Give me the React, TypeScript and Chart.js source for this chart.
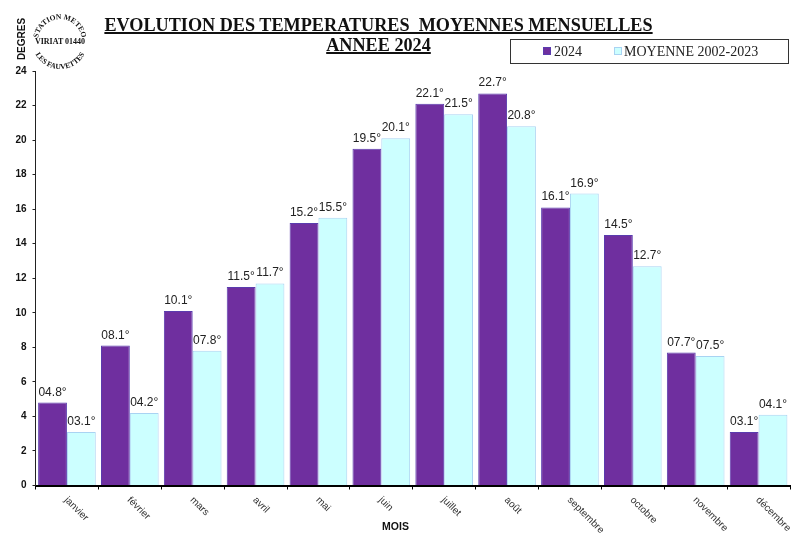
import React from "react";
import Chart from "chart.js/auto";

const months = ["janvier", "février", "mars", "avril", "mai", "juin", "juillet", "août", "septembre", "octobre", "novembre", "décembre"];
const values2024 = [4.8, 8.1, 10.1, 11.5, 15.2, 19.5, 22.1, 22.7, 16.1, 14.5, 7.7, 3.1];
const valuesMoyenne = [3.1, 4.2, 7.8, 11.7, 15.5, 20.1, 21.5, 20.8, 16.9, 12.7, 7.5, 4.1];
const seriesNames = ["2024", "MOYENNE 2002-2023"];
const seriesColors = ["#6f2f9f", "#ccffff"];
const seriesBorders = ["#5a3cae", "#a9d3f2"];

const SANS = '"Liberation Sans", Arial, sans-serif';
const SERIF = '"Liberation Serif", "Times New Roman", serif';

// "04.8°" style, the picture pads the values under ten with a zero
const formatLabel = (v: number) => (v < 10 ? "0" : "") + v.toFixed(1) + "°";

// value labels, slanted month names and the two axis names
const extraText = {
    id: "extraText",
    afterDatasetsDraw(chart: any) {
        const ctx = chart.ctx;
        ctx.save();
        ctx.fillStyle = "#222";
        ctx.font = "12px " + SANS;
        ctx.textAlign = "center";
        ctx.textBaseline = "alphabetic";
        chart.data.datasets.forEach((ds: any, i: number) => {
            chart.getDatasetMeta(i).data.forEach((bar: any, j: number) => {
                ctx.fillText(formatLabel(ds.data[j]), bar.x, bar.y - 7);
            });
        });

        const xScale = chart.scales.x;
        ctx.font = "10px " + SANS;
        ctx.fillStyle = "#333";
        ctx.textAlign = "left";
        ctx.textBaseline = "middle";
        months.forEach((m, i) => {
            ctx.save();
            ctx.translate(xScale.getPixelForValue(i) - 1, xScale.top + 13);
            ctx.rotate(Math.PI / 4);
            ctx.fillText(m, 0, 0);
            ctx.restore();
        });

        ctx.fillStyle = "#111";
        ctx.font = "bold 10.5px " + SANS;
        ctx.textAlign = "center";
        ctx.fillText("MOIS", 395.5, 527.5);
        ctx.font = "bold 10px " + SANS;
        ctx.save();
        ctx.translate(22, 39);
        ctx.rotate(-Math.PI / 2);
        ctx.fillText("DEGRES", 0, 0);
        ctx.restore();
        ctx.restore();
    },
};

function Stamp() {
    return (
        <svg width={100} height={80} style={{ position: "absolute", left: 0, top: 0 }}>
            <defs>
                <path id="stampTop" d="M39.3,48.5 A22,22 0 1 1 80.7,48.5" fill="none" />
                <path id="stampBottom" d="M33.7,31.4 A28,28 0 1 0 86.3,31.4" fill="none" />
            </defs>
            <g fontFamily={SERIF} fontWeight="bold" fontSize={7.5} fill="#111" textAnchor="middle">
                <text><textPath href="#stampTop" startOffset="50%">STATION METEO</textPath></text>
                <text x={60} y={43.5} fontSize={8}>VIRIAT 01440</text>
                <text><textPath href="#stampBottom" startOffset="50%">LES FAUVETTES</textPath></text>
            </g>
        </svg>
    );
}

function Legend() {
    const text = { position: "absolute", top: 3, fontSize: 14, lineHeight: "17px", whiteSpace: "nowrap" } as React.CSSProperties;
    const swatch = { position: "absolute", top: 7, width: 8, height: 8, boxSizing: "border-box", borderWidth: 1, borderStyle: "solid" } as React.CSSProperties;
    return (
        <div style={{ position: "absolute", left: 510, top: 39, width: 277, height: 23, border: "1px solid #333", fontFamily: SERIF, color: "#222" }}>
            <span style={{ ...swatch, left: 32, background: seriesColors[0], borderColor: seriesBorders[0] }} />
            <span style={{ ...text, left: 43 }}>{seriesNames[0]}</span>
            <span style={{ ...swatch, left: 103, background: seriesColors[1], borderColor: seriesBorders[1] }} />
            <span style={{ ...text, left: 113 }}>{seriesNames[1]}</span>
        </div>
    );
}

export default function App() {
    const canvasRef = React.useRef<HTMLCanvasElement | null>(null);

    React.useEffect(() => {
        if (!canvasRef.current) return;
        const chart = new Chart(canvasRef.current, {
            type: "bar",
            data: {
                labels: months,
                datasets: [values2024, valuesMoyenne].map((data, i) => ({
                    label: seriesNames[i],
                    data,
                    backgroundColor: seriesColors[i],
                    borderColor: seriesBorders[i],
                    borderWidth: 1,
                    categoryPercentage: 0.917,
                    barPercentage: 1,
                })),
            },
            options: {
                responsive: false,
                animation: false,
                devicePixelRatio: 1,
                layout: { padding: { top: 71, right: 10, left: 0, bottom: 0 } },
                plugins: { legend: { display: false }, title: { display: false }, tooltip: { enabled: false } },
                scales: {
                    x: {
                        afterFit: (scale: any) => { scale.height = 60.5; },
                        ticks: { display: false },
                        grid: { drawOnChartArea: false, drawTicks: true, tickLength: 4, color: "#000" },
                        border: { color: "#000", width: 2 },
                    },
                    y: {
                        min: 0,
                        max: 24,
                        afterFit: (scale: any) => { scale.width = 35.5; },
                        ticks: { stepSize: 2, color: "#111", padding: 6, font: { family: SANS, size: 10, weight: "bold" } },
                        grid: { drawOnChartArea: false, drawTicks: true, tickLength: 3, color: "#222" },
                        border: { color: "#222", width: 1 },
                    },
                },
            },
            plugins: [extraText],
        } as any);
        return () => chart.destroy();
    }, []);

    const titleLine = { position: "absolute", left: 0, width: 757, textAlign: "center", fontSize: 18.2, lineHeight: "20px", fontWeight: "bold", whiteSpace: "pre" } as React.CSSProperties;

    return (
        <div style={{ position: "absolute", left: 0, top: 0, width: 800, height: 546, background: "#fff", overflow: "hidden" }}>
            <canvas ref={canvasRef} width={800} height={546} style={{ display: "block" }} />
            <div style={{ fontFamily: SERIF, color: "#111" }}>
                <div style={{ ...titleLine, top: 15 }}><u style={{ textDecorationThickness: 2 }}>EVOLUTION DES TEMPERATURES  MOYENNES MENSUELLES</u></div>
                <div style={{ ...titleLine, top: 35 }}><u style={{ textDecorationThickness: 2 }}>ANNEE 2024</u></div>
            </div>
            <Stamp />
            <Legend />
        </div>
    );
}
